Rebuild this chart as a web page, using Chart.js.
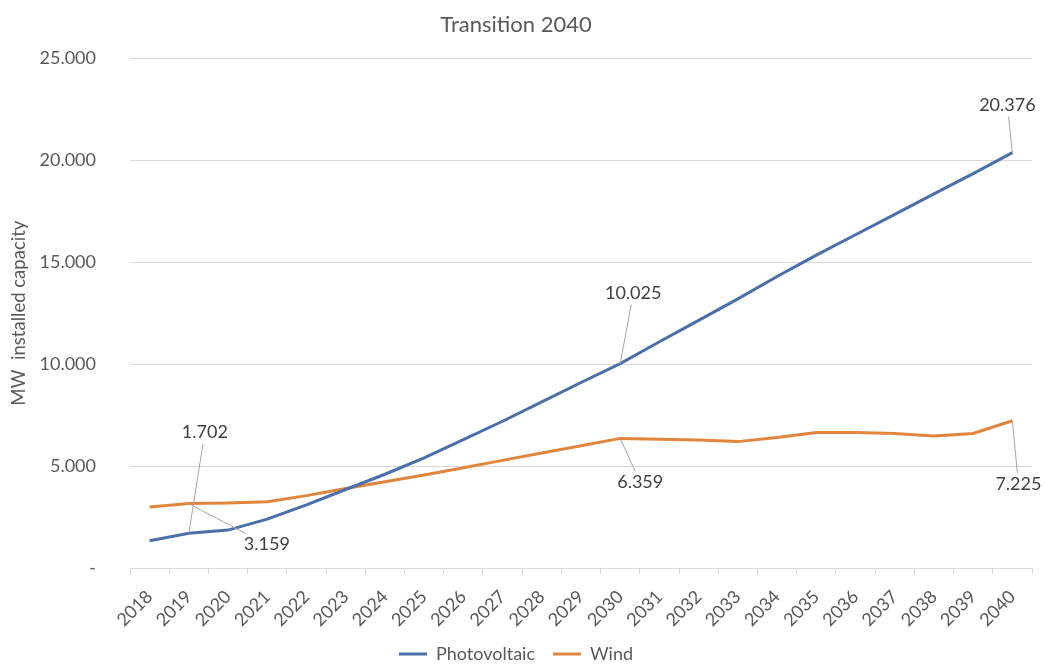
<!DOCTYPE html>
<html lang="en">
<head>
<meta charset="utf-8">
<title>Transition 2040</title>
<script src="https://cdn.jsdelivr.net/npm/chart.js"></script>
<style>
  html, body { margin: 0; padding: 0; background: #fff; }
  #wrap { width: 1045px; height: 664px; }
</style>
</head>
<body>
<div id="wrap"><canvas id="chart"></canvas></div>
<script>
// data (MW installed capacity)
var years = ['2018', '2019', '2020', '2021', '2022', '2023', '2024', '2025', '2026', '2027', '2028',
             '2029', '2030', '2031', '2032', '2033', '2034', '2035', '2036', '2037', '2038', '2039', '2040'];
var photovoltaic = [1340, 1702, 1860, 2400, 3100, 3850, 4600, 5400, 6300, 7200, 8150,
                    9100, 10025, 11100, 12150, 13200, 14300, 15350, 16350, 17350, 18350, 19350, 20376];
var wind = [2990, 3159, 3190, 3250, 3550, 3900, 4230, 4560, 4920, 5280, 5640,
            6000, 6359, 6320, 6280, 6200, 6400, 6650, 6650, 6600, 6470, 6600, 7225];
var yTicks = [0, 5000, 10000, 15000, 20000, 25000];

var FONT = 'Lato, "Open Sans", sans-serif';
var TEXT = '#595959';

function fmt(v) {
  if (v === 0) return '-';
  return String(Math.round(v)).replace(/\B(?=(\d{3})+(?!\d))/g, '.');
}

// labels with leader lines, like the ones Excel draws
var leaderLabels = {
  id: 'leaderLabels',
  afterDatasetsDraw: function (chart, args, opts) {
    var ctx = chart.ctx;
    ctx.save();
    ctx.font = opts.size + 'px ' + FONT;
    ctx.textAlign = 'center';
    ctx.textBaseline = 'middle';
    opts.items.forEach(function (it) {
      var idx = years.indexOf(it.year);
      var pt = chart.getDatasetMeta(it.dataset).data[idx];
      var txt = fmt(chart.data.datasets[it.dataset].data[idx]);
      var cx = pt.x + it.dx, cy = pt.y + it.dy;
      var hw = ctx.measureText(txt).width / 2 + 3, hh = opts.size / 2 + 2;
      // stop the leader where it meets the text box
      var ddx = cx - pt.x, ddy = cy - pt.y;
      var t = Math.max(Math.abs(ddx) > hw ? 1 - hw / Math.abs(ddx) : 0,
                       Math.abs(ddy) > hh ? 1 - hh / Math.abs(ddy) : 0);
      ctx.strokeStyle = '#A6A6A6';
      ctx.lineWidth = 1;
      ctx.beginPath();
      ctx.moveTo(pt.x, pt.y);
      ctx.lineTo(pt.x + ddx * t, pt.y + ddy * t);
      ctx.stroke();
      ctx.fillStyle = '#404040';
      ctx.fillText(txt, cx, cy);
    });
    ctx.restore();
  }
};

new Chart(document.getElementById('chart'), {
  type: 'line',
  data: {
    labels: years,
    datasets: [
      { label: 'Photovoltaic', data: photovoltaic, borderColor: '#4A6FAA', backgroundColor: '#4A6FAA',
        borderWidth: 3, pointRadius: 0, tension: 0 },
      { label: 'Wind', data: wind, borderColor: '#E2853C', backgroundColor: '#E2853C',
        borderWidth: 3, pointRadius: 0, tension: 0 }
    ]
  },
  plugins: [leaderLabels],
  options: {
    responsive: true,
    maintainAspectRatio: false,
    animation: false,
    layout: { padding: { left: 0, right: 13, top: 0, bottom: -9 } },
    plugins: {
      title: {
        display: true, text: 'Transition 2040', color: TEXT,
        font: { family: FONT, size: 22, weight: 'normal' },
        padding: { top: 12, bottom: 20 }
      },
      legend: {
        position: 'bottom',
        labels: {
          color: TEXT, font: { family: FONT, size: 18 },
          usePointStyle: true, pointStyle: 'line', pointStyleWidth: 28, padding: 18
        }
      },
      tooltip: { enabled: false },
      leaderLabels: {
        size: 18,
        items: [
          { dataset: 0, year: '2019', dx: 16, dy: -101 },
          { dataset: 1, year: '2019', dx: 78, dy: 41 },
          { dataset: 0, year: '2030', dx: 13, dy: -70 },
          { dataset: 1, year: '2030', dx: 20, dy: 44 },
          { dataset: 0, year: '2040', dx: -5, dy: -47 },
          { dataset: 1, year: '2040', dx: 6, dy: 63 }
        ]
      }
    },
    scales: {
      x: {
        offset: true,
        afterFit: function (s) { s.height = 59; },
        grid: { offset: true, drawOnChartArea: false, drawTicks: true, tickLength: 6, color: '#D9D9D9' },
        border: { display: true, color: '#D9D9D9' },
        ticks: { color: TEXT, font: { family: FONT, size: 18 }, minRotation: 45, maxRotation: 45, autoSkip: false, padding: 12 }
      },
      y: {
        min: 0, max: 25000,
        afterFit: function (s) { s.width = 130; },
        afterBuildTicks: function (s) { s.ticks = yTicks.map(function (v) { return { value: v }; }); },
        grid: { color: '#D9D9D9', drawTicks: false },
        border: { display: false },
        ticks: { color: TEXT, font: { family: FONT, size: 18 }, padding: 34, callback: function (v) { return fmt(v); } },
        title: { display: true, text: 'MW  installed capacity', color: TEXT, font: { family: FONT, size: 18.5 }, padding: { top: 8, bottom: 0 } }
      }
    }
  }
});
</script>
</body>
</html>
